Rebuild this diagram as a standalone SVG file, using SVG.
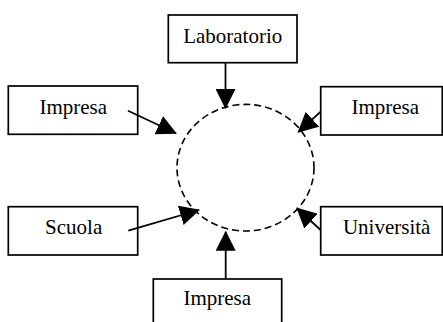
<svg xmlns="http://www.w3.org/2000/svg" width="443" height="322" viewBox="0 0 443 322">
<style>
.box{fill:#fff;stroke:#000;stroke-width:1.7}
.lbl{font-family:"Liberation Serif","Times New Roman",serif;font-size:21px;fill:#000;text-anchor:middle}
.edge{stroke:#000;stroke-width:1.8;fill:none;marker-end:url(#ah)}
</style>
<defs>
<marker id="ah" markerUnits="userSpaceOnUse" markerWidth="20" markerHeight="20" refX="19" refY="10" orient="auto" viewBox="0 0 20 20">
<path d="M0,0 L20,10 L0,20 z" fill="#000"/>
</marker>
</defs>
<g id="center">
<ellipse cx="245.5" cy="167.7" rx="68.5" ry="63.3" fill="none" stroke="#000" stroke-width="1.6" stroke-dasharray="7 4"/>
</g>
<g id="laboratorio">
<rect class="box" x="168.3" y="15" width="128.7" height="47.7"/>
<text class="lbl" x="232.7" y="42.7">Laboratorio</text>
</g>
<g id="impresa-left">
<rect class="box" x="8.3" y="86" width="129.4" height="48.3"/>
<text class="lbl" x="73.3" y="114.3">Impresa</text>
</g>
<g id="impresa-right">
<rect class="box" x="320.7" y="86.7" width="121.6" height="48.3"/>
<text class="lbl" x="385.3" y="114.3">Impresa</text>
</g>
<g id="scuola">
<rect class="box" x="8.3" y="206.7" width="129.4" height="48.3"/>
<text class="lbl" x="73.7" y="234">Scuola</text>
</g>
<g id="universita">
<rect class="box" x="320.7" y="206.7" width="121.6" height="48.3"/>
<text class="lbl" x="386.7" y="234">Università</text>
</g>
<g id="impresa-bottom">
<rect class="box" x="153.3" y="279" width="128.4" height="50"/>
<text class="lbl" x="217.3" y="305">Impresa</text>
</g>
<g id="connectors">
<line class="edge" x1="225.5" y1="62.7" x2="225.5" y2="108"/>
<line class="edge" x1="128" y1="110.7" x2="176" y2="133.3"/>
<line class="edge" x1="320.7" y1="111.7" x2="298.3" y2="132"/>
<line class="edge" x1="128.3" y1="230.7" x2="199" y2="210"/>
<line class="edge" x1="320.7" y1="230" x2="297" y2="208.3"/>
<line class="edge" x1="225.7" y1="279" x2="225.7" y2="231.7"/>
</g>
</svg>
